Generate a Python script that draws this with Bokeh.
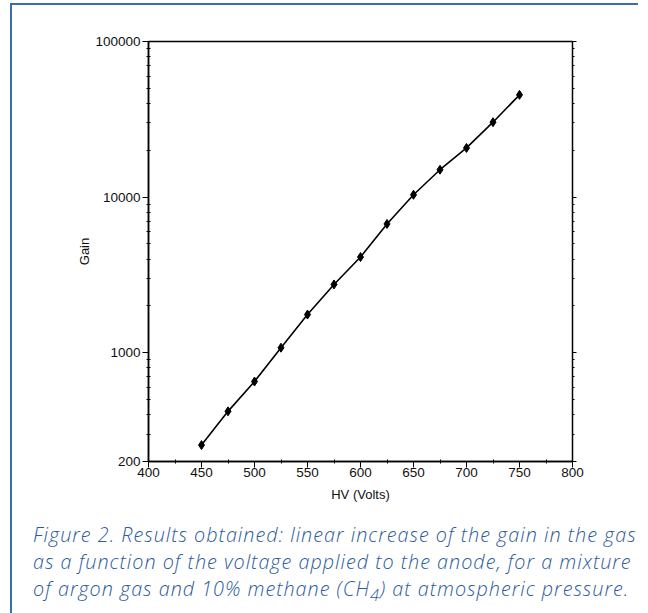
from bokeh.plotting import figure
from bokeh.models import (FixedTicker, PrintfTickFormatter, LogAxis, Div, Range1d)
from bokeh.layouts import column
from bokeh.embed import file_html
from bokeh.resources import INLINE

# ---- data ----
hv_volts = [450, 475, 500, 525, 550, 575, 600, 625, 650, 675, 700, 725, 750]
gain = [255, 420, 653, 1077, 1759, 2746, 4120, 6725, 10350, 15000, 20700, 30300, 45400]

y_major_ticks = [200, 1000, 10000, 100000]
y_minor_ticks = [300, 400, 500, 600, 700, 800, 900,
                 2000, 3000, 4000, 5000, 6000, 7000, 8000, 9000,
                 20000, 30000, 40000, 50000, 60000, 70000, 80000, 90000]
x_major_ticks = [400, 450, 500, 550, 600, 650, 700, 750, 800]
x_minor_ticks = [425, 475, 525, 575, 625, 675, 725, 775]

x_label = "HV (Volts)"
y_label = "Gain"
caption_lines = [
    "Figure 2. Results obtained: linear increase of the gain in the gas",
    "as a function of the voltage applied to the anode, for a mixture",
    "of argon gas and 10% methane (CH<sub>4</sub>) at atmospheric pressure.",
]

FONT = "Liberation Sans"

p = figure(width=626, height=508, y_axis_type="log",
           x_range=Range1d(400, 800), y_range=Range1d(200, 100000),
           output_backend="svg", toolbar_location=None,
           min_border_left=136, min_border_right=66,
           min_border_top=36, min_border_bottom=52)
p.xgrid.visible = False
p.ygrid.visible = False
p.outline_line_color = "black"
p.outline_line_width = 1.5
p.background_fill_color = "white"
p.border_fill_color = "white"

p.line(hv_volts, gain, line_color="black", line_width=1.6)
p.scatter(hv_volts, gain, marker="diamond", size=9, fill_color="black", line_color="black")

# axes styling
xa = p.xaxis[0]
xa.ticker = FixedTicker(ticks=x_major_ticks, minor_ticks=x_minor_ticks)
xa.axis_label = x_label
ya = p.yaxis[0]
ya.ticker = FixedTicker(ticks=y_major_ticks, minor_ticks=y_minor_ticks)
ya.formatter = PrintfTickFormatter(format="%d")
ya.axis_label = y_label

for ax in (xa, ya):
    ax.axis_line_color = "black"
    ax.axis_line_width = 1.5
    ax.major_tick_line_color = "black"
    ax.minor_tick_line_color = "black"
    ax.major_tick_out = 6
    ax.major_tick_in = 0
    ax.minor_tick_out = 2
    ax.minor_tick_in = 2
    ax.major_label_text_font = FONT
    ax.major_label_text_font_size = "13.5px"
    ax.major_label_text_color = "#111111"
    ax.axis_label_text_font = FONT
    ax.axis_label_text_font_size = "13px"
    ax.axis_label_text_font_style = "normal"
    ax.axis_label_text_color = "#111111"
xa.major_label_standoff = 0
ya.major_label_standoff = 2
xa.axis_label_standoff = 7
ya.axis_label_standoff = 0

ra = LogAxis(ticker=FixedTicker(ticks=y_major_ticks, minor_ticks=y_minor_ticks),
             major_label_text_color=None, axis_line_color="black",
             major_tick_out=4, major_tick_in=0, minor_tick_out=2, minor_tick_in=0)
p.add_layout(ra, "right")

caption = Div(text="<br>".join(caption_lines), width=610, height=96,
              styles={"font-family": "'Open Sans', Lato, sans-serif",
                      "font-style": "italic", "font-weight": "300",
                      "font-size": "19.8px", "line-height": "27px",
                      "letter-spacing": "1px",
                      "color": "#2b5b9b", "white-space": "nowrap",
                      "padding-left": "16px", "padding-top": "3px"})

layout = column(p, caption, spacing=0,
                styles={"border-top": "2px solid #3d6cad",
                        "border-left": "2px solid #3d6cad",
                        "margin-left": "10px", "margin-top": "3px"})

open("out.html", "w").write(file_html(layout, INLINE))
